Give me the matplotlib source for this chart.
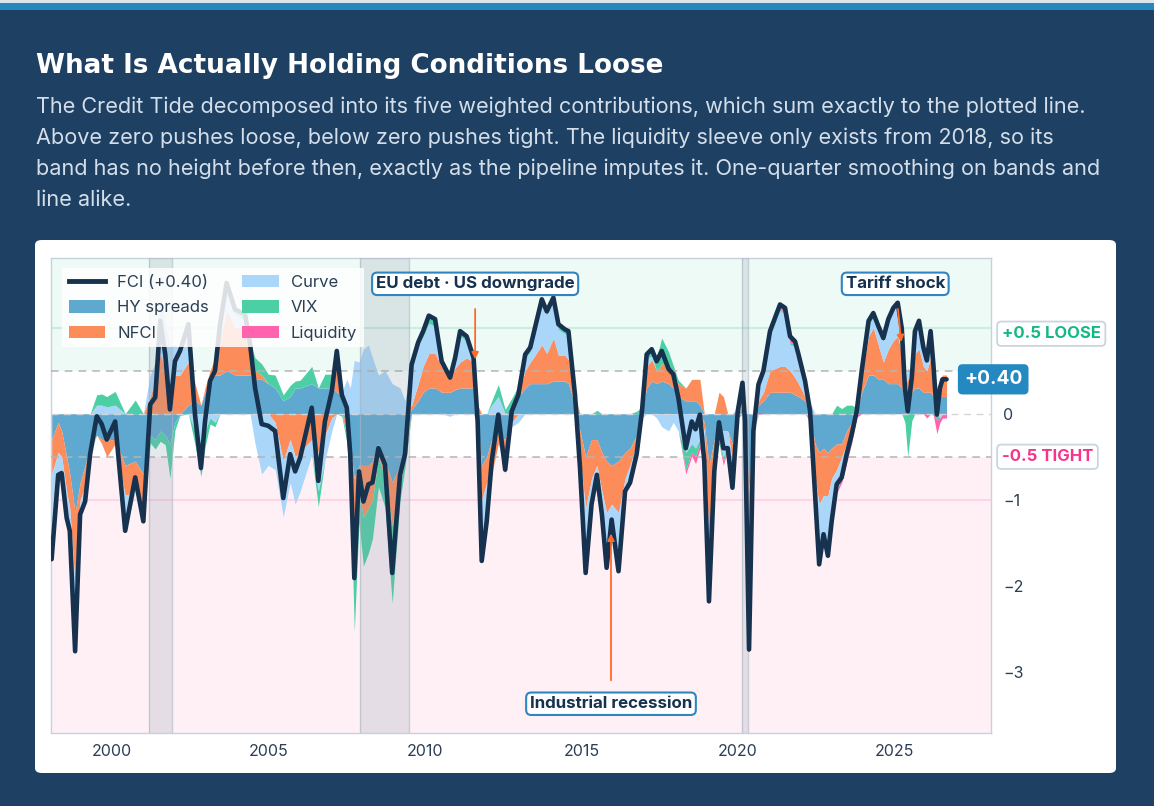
import matplotlib
matplotlib.use("Agg")
import matplotlib.pyplot as plt
import numpy as np
from matplotlib.patches import FancyBboxPatch, Patch, Rectangle
from matplotlib.lines import Line2D

plt.rcParams['font.family'] = ['Inter', 'DejaVu Sans']

# ---------------- data ----------------
years = [1998.07, 1998.28, 1998.39, 1998.55, 1998.65, 1998.82, 1998.98, 1999.14, 1999.30, 1999.51,
         1999.67, 1999.83, 2000.10, 2000.42, 2000.74, 2001.00, 2001.22, 2001.38, 2001.54, 2001.70,
         2001.85, 2002.01, 2002.17, 2002.44, 2002.65, 2002.84, 2002.97, 2003.13, 2003.29, 2003.45,
         2003.66, 2003.93, 2004.25, 2004.41, 2004.57, 2004.78, 2004.99, 2005.21, 2005.47, 2005.69,
         2005.85, 2006.01, 2006.38, 2006.59, 2006.80, 2007.02, 2007.18, 2007.34, 2007.50, 2007.61,
         2007.74, 2007.89, 2008.03, 2008.19, 2008.32, 2008.51, 2008.72, 2008.95, 2009.20, 2009.36,
         2009.57, 2009.78, 2009.94, 2010.12, 2010.32, 2010.53, 2010.80, 2010.96, 2011.12, 2011.33,
         2011.55, 2011.68, 2011.81, 2011.97, 2012.13, 2012.34, 2012.56, 2012.77, 2012.98, 2013.20,
         2013.36, 2013.46, 2013.73, 2013.89, 2014.10, 2014.26, 2014.47, 2014.58, 2014.79, 2014.95,
         2015.13, 2015.32, 2015.49, 2015.65, 2015.80, 2015.96, 2016.18, 2016.39, 2016.55, 2016.76,
         2016.93, 2017.08, 2017.24, 2017.40, 2017.56, 2017.78, 2017.93, 2018.09, 2018.33, 2018.52,
         2018.64, 2018.78, 2018.92, 2019.07, 2019.24, 2019.39, 2019.53, 2019.67, 2019.82, 2019.99,
         2020.14, 2020.22, 2020.35, 2020.49, 2020.65, 2020.81, 2021.02, 2021.34, 2021.50, 2021.66,
         2021.82, 2021.93, 2022.14, 2022.30, 2022.46, 2022.59, 2022.73, 2022.87, 2022.99, 2023.15,
         2023.31, 2023.47, 2023.63, 2023.79, 2023.95, 2024.17, 2024.32, 2024.48, 2024.64, 2024.80,
         2024.96, 2025.10, 2025.23, 2025.33, 2025.42, 2025.55, 2025.65, 2025.78, 2025.92, 2026.03,
         2026.15, 2026.24, 2026.35, 2026.45, 2026.53, 2026.66]

hy_spreads = [-0.30, -0.10, -0.20, -0.50, -0.70, -1.15, -0.80, -0.60, -0.35, -0.25,
              -0.30, -0.30, -0.30, -0.60, -0.55, -0.70, -0.25, -0.30, -0.20, -0.25,
              -0.35, -0.10, 0.00, 0.10, 0.15, 0.10, 0.25, 0.35, 0.45, 0.45,
              0.50, 0.45, 0.45, 0.45, 0.40, 0.40, 0.35, 0.30, 0.15, 0.20,
              0.30, 0.30, 0.35, 0.30, 0.30, 0.30, 0.25, 0.20, -0.10, -0.40,
              -0.75, -0.60, -0.60, -0.60, -0.55, -0.35, -0.55, -0.80, -0.60, -0.40,
              0.05, 0.15, 0.25, 0.30, 0.30, 0.25, 0.25, 0.28, 0.30, 0.30,
              0.30, -0.10, -0.60, -0.50, -0.30, -0.25, -0.30, 0.10, 0.20, 0.30,
              0.35, 0.35, 0.35, 0.35, 0.38, 0.38, 0.38, 0.35, 0.10, -0.20,
              -0.50, -0.30, -0.30, -0.45, -0.55, -0.60, -0.55, -0.45, -0.40, -0.25,
              0.05, 0.30, 0.38, 0.35, 0.38, 0.35, 0.30, 0.20, 0.15, 0.15,
              0.15, 0.10, -0.10, -0.60, -0.30, -0.15, -0.20, -0.20, -0.35, -0.05,
              0.10, -0.05, -0.90, 0.00, 0.10, 0.15, 0.25, 0.25, 0.25, 0.25,
              0.22, 0.20, 0.15, -0.05, -0.35, -0.45, -0.40, -0.45, -0.40, -0.35,
              -0.35, -0.20, -0.10, 0.02, 0.25, 0.45, 0.45, 0.40, 0.40, 0.35,
              0.35, 0.35, 0.30, 0.20, 0.20, 0.25, 0.30, 0.30, 0.25, 0.25,
              0.25, 0.20, 0.15, 0.20, 0.20, 0.20]

nfci = [-0.40, -0.35, -0.30, -0.40, -0.40, -0.85, -0.20, -0.25, -0.05, 0.00,
        -0.05, -0.20, -0.05, -0.35, -0.35, -0.35, 0.20, 0.40, 0.70, 0.50,
        0.30, 0.45, 0.45, 0.50, 0.20, 0.00, 0.05, 0.15, 0.20, 0.40,
        0.70, 0.55, 0.55, 0.30, 0.10, 0.05, 0.00, -0.10, -0.55, -0.30,
        -0.50, -0.45, -0.30, -0.45, -0.25, -0.05, 0.30, 0.05, -0.15, -0.20,
        -0.70, -0.30, -0.60, -0.50, -0.45, -0.15, -0.20, -0.50, -0.25, -0.10,
        0.05, 0.20, 0.30, 0.40, 0.40, 0.30, 0.20, 0.25, 0.30, 0.35,
        0.30, 0.10, -0.40, -0.30, -0.40, -0.10, -0.25, -0.10, 0.05, 0.20,
        0.25, 0.30, 0.45, 0.35, 0.50, 0.30, 0.30, 0.28, 0.10, -0.30,
        -0.60, -0.45, -0.30, -0.45, -0.60, -0.45, -0.60, -0.30, -0.20, -0.10,
        0.00, 0.25, 0.25, 0.15, 0.20, 0.20, 0.15, 0.15, 0.15, 0.25,
        0.25, 0.30, -0.10, -0.90, -0.15, 0.25, 0.20, 0.00, -0.20, 0.05,
        0.10, 0.00, -0.70, -0.05, 0.05, 0.10, 0.25, 0.30, 0.30, 0.25,
        0.20, 0.15, 0.05, -0.05, -0.40, -0.60, -0.55, -0.50, -0.35, -0.30,
        -0.15, -0.15, -0.05, 0.00, 0.20, 0.45, 0.55, 0.40, 0.20, 0.40,
        0.50, 0.55, 0.40, 0.15, 0.20, 0.20, 0.40, 0.45, 0.30, 0.25,
        0.40, 0.25, 0.07, 0.20, 0.25, 0.25]

curve = [-0.90, -0.22, -0.15, -0.26, -0.21, -0.70, -0.15, -0.15, -0.05, 0.10,
         0.10, 0.08, 0.10, -0.35, 0.00, -0.20, 0.25, 0.20, 0.70, 0.55,
         0.50, 0.35, 0.30, 0.40, -0.20, -0.35, -0.20, -0.05, -0.10, 0.15,
         0.30, 0.16, 0.08, 0.00, -0.35, -0.70, -0.60, -0.55, -0.65, -0.50,
         -0.55, -0.45, -0.18, -0.45, -0.30, -0.15, 0.15, 0.00, 0.40, 0.30,
         0.62, 0.60, 0.75, 0.80, 0.65, 0.45, 0.50, 0.35, 0.30, 0.15,
         0.45, 0.45, 0.35, 0.35, 0.32, 0.06, -0.03, 0.10, 0.30, 0.20,
         0.03, -0.05, -0.60, -0.40, 0.10, 0.20, -0.15, -0.05, -0.10, 0.15,
         0.12, 0.22, 0.50, 0.45, 0.44, 0.30, 0.25, 0.30, 0.00, -0.13,
         -0.75, -0.30, -0.15, -0.27, -0.64, -0.18, -0.68, -0.15, -0.20, -0.15,
         -0.05, 0.10, 0.04, -0.05, -0.15, -0.20, -0.10, -0.20, -0.45, -0.35,
         -0.40, -0.30, -0.30, -0.60, -0.20, -0.15, -0.30, -0.15, -0.30, 0.03,
         0.15, -0.04, -0.70, -0.10, 0.20, 0.20, 0.40, 0.65, 0.60, 0.30,
         0.37, 0.33, 0.18, 0.13, -0.19, -0.70, -0.45, -0.70, -0.50, -0.27,
         -0.20, -0.15, -0.10, 0.00, 0.05, 0.13, 0.12, 0.15, 0.25, 0.32,
         0.35, 0.37, 0.27, 0.05, 0.13, 0.05, 0.26, 0.33, 0.22, 0.17,
         0.30, 0.14, 0.00, -0.05, 0.00, 0.00]

vix = [-0.09, -0.04, -0.04, -0.05, -0.05, -0.06, -0.02, -0.02, -0.02, 0.12,
       0.13, 0.12, 0.16, -0.06, 0.16, 0.00, -0.09, -0.11, -0.12, -0.11,
       -0.40, -0.09, -0.02, 0.04, -0.16, -0.38, -0.19, -0.07, -0.05, 0.04,
       0.02, 0.05, 0.08, 0.06, 0.15, 0.13, 0.11, 0.15, 0.07, 0.13,
       0.08, 0.09, 0.20, -0.18, 0.16, 0.16, 0.03, -0.03, -0.08, -0.17,
       -1.08, -0.37, -0.57, -0.52, -0.45, -0.35, -0.34, -0.90, -0.16, -0.12,
       0.02, 0.03, 0.06, 0.09, 0.08, 0.00, 0.00, 0.02, 0.06, 0.05,
       0.02, -0.04, -0.11, -0.05, 0.05, 0.14, 0.05, 0.08, 0.07, 0.04,
       0.05, 0.05, 0.03, 0.04, 0.03, 0.06, 0.05, 0.03, 0.02, 0.00,
       0.00, 0.00, 0.04, 0.00, 0.00, 0.00, 0.00, 0.00, 0.00, 0.03,
       0.03, 0.04, 0.08, 0.16, 0.30, 0.17, 0.11, 0.04, -0.20, -0.10,
       -0.10, -0.05, -0.05, -0.08, -0.02, -0.05, -0.05, -0.02, -0.01, 0.00,
       0.01, 0.00, -0.35, -0.05, 0.00, 0.00, 0.02, 0.02, 0.00, 0.02,
       0.03, 0.01, 0.00, 0.00, 0.00, 0.00, 0.00, 0.00, 0.00, 0.10,
       0.06, 0.10, 0.10, 0.05, 0.00, 0.05, 0.05, 0.07, 0.03, 0.03,
       0.03, 0.02, 0.02, -0.10, -0.50, -0.08, 0.00, 0.00, 0.00, 0.00,
       0.01, 0.00, -0.07, 0.00, 0.00, 0.00]

liquidity = [0.0] * 107 + [
    0.00, -0.05, -0.04,
    -0.08, -0.06, 0.00, 0.00, 0.00, 0.00, -0.05, -0.03, 0.00, 0.00,
    0.00, 0.00, -0.09, 0.00, -0.01, 0.05, 0.04, 0.05, 0.08, 0.08,
    0.02, 0.00, 0.00, 0.00, 0.00, 0.00, 0.00, 0.00, 0.00, 0.00,
    -0.10, -0.07, -0.09, -0.04, 0.00, 0.00, 0.00, 0.00, 0.00, 0.00,
    0.00, 0.00, 0.00, 0.00, 0.00, 0.00, 0.00, 0.00, 0.00, -0.05,
    0.00, -0.02, -0.16, -0.05, -0.05, -0.05]

component_names = ["HY spreads", "NFCI", "Curve", "VIX", "Liquidity"]
component_colors = ["#5fa8d0", "#fd8c5b", "#aad6fa", "#4dcfa5", "#ff63ad"]

recession_spans = [(2001.17, 2001.90), (2007.92, 2009.50), (2020.12, 2020.33)]

# (label, arrow tip x, arrow tip y, box x, box y, arrow tail y)
annotations = [
    ("EU debt · US downgrade", 2011.60, 0.60, 2011.60, 1.51, 1.25),
    ("Industrial recession", 2015.94, -1.36, 2015.94, -3.37, -3.13),
    ("Tariff shock", 2025.22, 0.80, 2025.02, 1.51, 1.25),
]

# ---------------- figure ----------------
NAVY = "#1e4063"
W, H = 1154, 806
fig = plt.figure(figsize=(W / 100, H / 100), dpi=100, facecolor=NAVY)


def fx(px):
    return px / W


def fy(py):
    return 1 - py / H


# top strip
fig.patches.append(Rectangle((0, fy(3)), 1, 3 / H, transform=fig.transFigure,
                             facecolor="#dde4ec", edgecolor="none", zorder=-2))
fig.patches.append(Rectangle((0, fy(10)), 1, 7 / H, transform=fig.transFigure,
                             facecolor="#2487bd", edgecolor="none", zorder=-2))

fig.text(fx(36), fy(66), "What Is Actually Holding Conditions Loose", color="white",
         fontsize=18.9, fontweight="bold", va="center", ha="left", family="DejaVu Sans")
sub = ["The Credit Tide decomposed into its five weighted contributions, which sum exactly to the plotted line.",
       "Above zero pushes loose, below zero pushes tight. The liquidity sleeve only exists from 2018, so its",
       "band has no height before then, exactly as the pipeline imputes it. One-quarter smoothing on bands and",
       "line alike."]
for i, s in enumerate(sub):
    fig.text(fx(36), fy(107 + 31 * i), s, color="#d3deea", fontsize=15.6, va="center", ha="left")

# white panel
panel = FancyBboxPatch((fx(35), fy(773)), fx(1116) - fx(35), fy(240) - fy(773),
                       boxstyle="round,pad=0,rounding_size=0.006", transform=fig.transFigure,
                       facecolor="white", edgecolor="none", zorder=-1)
fig.patches.append(panel)

ax = fig.add_axes([fx(51), fy(733), fx(991) - fx(51), fy(258) - fy(733)])
ax.set_zorder(2)
ax.set_facecolor("white")
YMIN, YMAX = -3.71, 1.81
XMIN, XMAX = 1998.05, 2028.08
ax.set_xlim(XMIN, XMAX)
ax.set_ylim(YMIN, YMAX)

# zones
ax.axhspan(0.5, YMAX, color="#eefaf5", zorder=0, lw=0)
ax.axhspan(YMIN, -0.5, color="#fff0f6", zorder=0, lw=0)
ax.axhline(1.0, color="#c8eedf", lw=1.5, zorder=0.5)
ax.axhline(-1.0, color="#ffd5e6", lw=1.5, zorder=0.5)

# stacked diverging bands
t = np.array(years)
comps = [np.array(c) for c in (hy_spreads, nfci, curve, vix, liquidity)]
pos_base = np.zeros_like(t)
neg_base = np.zeros_like(t)
for c, col in zip(comps, component_colors):
    p = np.clip(c, 0, None)
    n = np.clip(c, None, 0)
    ax.fill_between(t, pos_base, pos_base + p, color=col, lw=0, zorder=2)
    ax.fill_between(t, neg_base, neg_base + n, color=col, lw=0, zorder=2)
    pos_base = pos_base + p
    neg_base = neg_base + n

fci = np.sum(comps, axis=0)

# reference lines
ax.axhline(0, color="#d2d6da", lw=1.0, ls=(0, (5, 4)), zorder=3)
ax.axhline(0.5, color="#b4b4b4", lw=1.1, ls=(0, (5, 4)), zorder=3)
ax.axhline(-0.5, color="#b4b4b4", lw=1.1, ls=(0, (5, 4)), zorder=3)

# recession bands
for a, b in recession_spans:
    ax.axvspan(a, b, color="#8a9bab", alpha=0.22, lw=0, zorder=3.5)
    ax.axvline(a, color="#a9b6c2", lw=1.0, alpha=0.6, zorder=3.5)
    ax.axvline(b, color="#a9b6c2", lw=1.0, alpha=0.6, zorder=3.5)

# FCI line
ax.plot(t, fci, color="#16324f", lw=3.3, solid_joinstyle="round", solid_capstyle="round", zorder=5)

# annotations
for text, xt, yt, xb, yb, ytail in annotations:
    xtail = xt if abs(xb - xt) < 0.05 else xt - 0.12
    ax.annotate("", xy=(xt, yt), xytext=(xtail, ytail),
                arrowprops=dict(arrowstyle="-|>", color="#ff6a2b", lw=1.3, mutation_scale=10),
                zorder=6)
    ax.text(xb, yb, text, ha="center", va="center", fontsize=12.2, fontweight="bold",
            color="#16324f", zorder=10,
            bbox=dict(boxstyle="round,pad=0.22,rounding_size=0.3", facecolor="white",
                      edgecolor="#2e86c1", lw=1.5))

# last value label
last = fci[-1]
ax.text(2028.15, last, f"{last:+.2f}", ha="center", va="center", fontsize=13.8,
        fontweight="bold", color="white", zorder=8, clip_on=False,
        bbox=dict(boxstyle="round,pad=0.32,rounding_size=0.25", facecolor="#2489c0", edgecolor="none"))

# side zone labels
ax.text(1.0115, (0.93 - YMIN) / (YMAX - YMIN), "+0.5 LOOSE", transform=ax.transAxes,
        ha="left", va="center", fontsize=12, fontweight="bold", color="#14b885", clip_on=False,
        bbox=dict(boxstyle="round,pad=0.28,rounding_size=0.25", facecolor="white",
                  edgecolor="#c9d5e0", lw=1.3))
ax.text(1.0115, (-0.5 - YMIN) / (YMAX - YMIN), "-0.5 TIGHT", transform=ax.transAxes,
        ha="left", va="center", fontsize=12, fontweight="bold", color="#f7348b", clip_on=False,
        bbox=dict(boxstyle="round,pad=0.28,rounding_size=0.25", facecolor="white",
                  edgecolor="#c9d5e0", lw=1.3))

# axes styling
ax.yaxis.tick_right()
ax.set_yticks([0, -1, -2, -3])
ax.set_yticklabels(["0", "\u22121", "\u22122", "\u22123"])
ax.set_xticks([2000, 2005, 2010, 2015, 2020, 2025])
ax.tick_params(axis="both", length=0, labelsize=11.5, labelcolor="#2b3e55")
ax.tick_params(axis="y", pad=9)
ax.tick_params(axis="x", pad=8)
for s in ax.spines.values():
    s.set_color("#c5d2df")
    s.set_linewidth(1.0)

# legend
handles = [Line2D([0], [0], color="#16324f", lw=3.5),
           Patch(facecolor=component_colors[0]), Patch(facecolor=component_colors[1]),
           Patch(facecolor=component_colors[2]), Patch(facecolor=component_colors[3]),
           Patch(facecolor=component_colors[4])]
labels = [f"FCI ({last:+.2f})"] + component_names
leg = ax.legend(handles, labels, ncol=2,
                loc="upper left", bbox_to_anchor=(0.003, 0.996), frameon=True,
                facecolor="white", edgecolor="none", framealpha=0.85, fontsize=12,
                handlelength=2.2, handleheight=0.75, columnspacing=2.0, labelspacing=0.62,
                handletextpad=0.7, borderpad=0.4, fancybox=False)
for txt in leg.get_texts():
    txt.set_color("#2b3e55")
leg.set_zorder(9)

fig.savefig("out.png", dpi=100, facecolor=NAVY)
